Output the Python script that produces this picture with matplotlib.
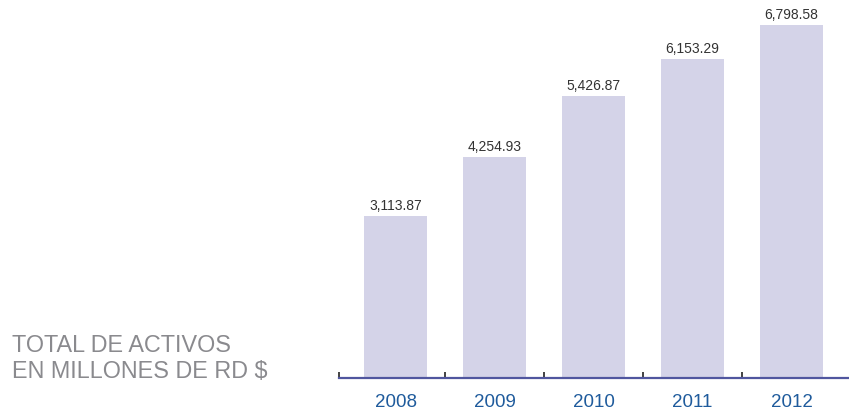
import matplotlib
matplotlib.use("Agg")
import matplotlib.pyplot as plt

years = ["2008", "2009", "2010", "2011", "2012"]
values = [3113.87, 4254.93, 5426.87, 6153.29, 6798.58]
value_labels = ["3,113.87", "4,254.93", "5,426.87", "6,153.29", "6,798.58"]

plt.rcParams['font.family'] = ['Liberation Sans', 'DejaVu Sans']

W, H = 849, 411
fig = plt.figure(figsize=(W / 100, H / 100), dpi=100)
ax = fig.add_axes([339 / W, 33 / H, 1 - 339 / W, 1 - 33 / H])

x = list(range(len(years)))
ax.bar(x, values, width=0.64, color="#d4d3e8", zorder=1)
for xi, v, lab in zip(x, values, value_labels):
    ax.annotate(lab, (xi, v), xytext=(0, 4.3), textcoords="offset points",
                ha="center", va="baseline", fontsize=10, color="#333333")

ax.set_xlim(-0.571, 4.58)
ax.set_ylim(0, 7280)
for s in ["top", "right", "left"]:
    ax.spines[s].set_visible(False)
ax.spines["bottom"].set_color("#50569f")
ax.spines["bottom"].set_linewidth(1.6)
ax.set_yticks([])

ax.set_xticks([-0.571, 0.5, 1.5, 2.5, 3.5])
ax.set_xticklabels([])
ax.tick_params(axis="x", direction="in", length=4.5, width=1.2, color="#222222")
for xi, yr in zip(x, years):
    ax.annotate(yr, (xi, 0), xytext=(0, -20.9), textcoords="offset points",
                ha="center", va="baseline", fontsize=13.5, color="#1f5b9c")

fig.text(12 / W, 1 - 352 / H, "TOTAL DE ACTIVOS", ha="left", va="baseline",
         fontsize=16.8, color="#8a8a8e")
fig.text(12 / W, 1 - 378 / H, "EN MILLONES DE RD $", ha="left", va="baseline",
         fontsize=16.8, color="#8a8a8e")

fig.savefig("out.png", dpi=100)
